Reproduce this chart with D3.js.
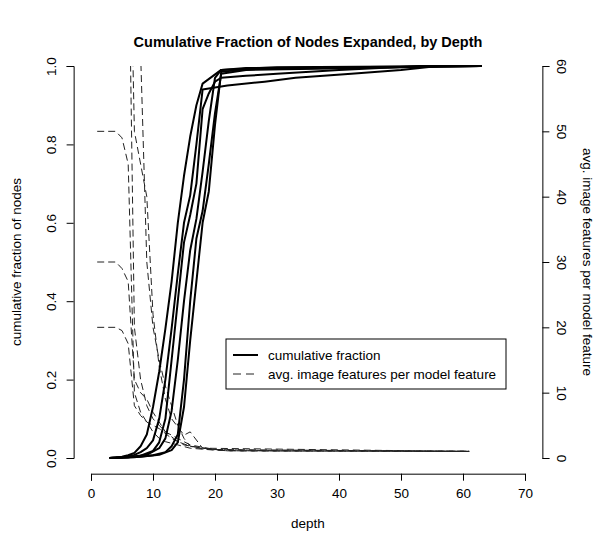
<!DOCTYPE html>
<html>
<head>
<meta charset="utf-8">
<script src="https://cdn.jsdelivr.net/npm/d3@7"></script>
<style>
  body { margin: 0; background: #fff; }
  text { font-family: "Liberation Sans", Arial, Helvetica, sans-serif; }
</style>
</head>
<body>
<div id="chart"></div>
<script>
// cumulative fraction of nodes expanded, one array per run: [depth, fraction]
const cum1 = [[3,0],[4,0.001],[5,0.003],[6,0.007],[7,0.013],[8,0.03],[9,0.06],[10,0.13],[11,0.22],[12,0.33],[13,0.45],[14,0.6],[15,0.72],[16,0.82],[17,0.9],[18,0.955],[21,0.99],[30,0.997],[63,1]];
const cum2 = [[3,0],[5,0.002],[7,0.008],[8,0.015],[9,0.025],[10,0.045],[11,0.1],[12,0.2],[13,0.33],[14,0.47],[15,0.6],[16,0.67],[17,0.8],[18,0.94],[22,0.95],[28,0.96],[33,0.97],[42,0.98],[50,0.99],[56,1],[63,1]];
const cum3 = [[3,0],[6,0.002],[8,0.006],[10,0.018],[11,0.04],[12,0.1],[13,0.25],[14,0.4],[15,0.55],[16,0.62],[17,0.7],[18,0.89],[19,0.93],[20,0.96],[21,0.97],[25,0.975],[30,0.98],[40,0.99],[53,1],[63,1]];
const cum4 = [[3,0],[6,0.002],[9,0.008],[11,0.025],[12,0.05],[13,0.12],[14,0.25],[15,0.4],[16,0.53],[17,0.61],[18,0.73],[19,0.86],[20,0.97],[21,0.99],[25,0.995],[63,1]];
const cum5 = [[3,0],[7,0.002],[10,0.007],[12,0.015],[13,0.03],[14,0.06],[15,0.2],[16,0.4],[17,0.56],[18,0.63],[19,0.75],[20,0.88],[21,0.98],[25,0.99],[63,1]];
const cum6 = [[3,0],[8,0.003],[11,0.008],[13,0.02],[14,0.04],[15,0.13],[16,0.3],[17,0.45],[18,0.6],[19,0.68],[20,0.85],[21,0.985],[25,0.992],[63,1]];

// avg. image features per model feature, one array per run: [depth, features]
const feat1 = [[1,50],[4,50],[5,49],[6,45],[7,10],[8,7],[9,5.5],[10,4],[11,3],[12,2.5],[14,2],[16,1.5],[20,1.2],[25,1.1],[61,1.05]];
const feat2 = [[1,30],[4,30],[5,29],[6,27],[7,12],[8,10],[9,9],[10,7],[12,4],[14,2.5],[16,1.8],[20,1.3],[30,1.1],[61,1.0]];
const feat3 = [[1,20],[4,20],[5,19.5],[6,17.5],[7,8],[8,6.5],[9,5.5],[10,5],[11,4.5],[13,3],[15,2],[18,1.5],[22,1.1],[61,1.05]];
const feat4 = [[1,90],[5,90],[6,85],[7,20],[8,12],[9,8],[10,6],[11,5],[12,4],[14,3],[16,2],[20,1.3],[61,1.0]];
const feat5 = [[1,95],[6,95],[7,50],[8,45],[9,40],[10,22],[11,14],[12,9],[13,6],[15,3.5],[16,4],[18,1.5],[61,1.0]];
const feat6 = [[1,95],[7,95],[8,62],[9,30],[10,20],[11,15],[12,11],[13,8],[14,5],[15,3],[16,1.8],[18,1.4],[22,1.1],[61,1.0]];

const cumSeries = [cum1, cum2, cum3, cum4, cum5, cum6];
const featSeries = [feat1, feat2, feat3, feat4, feat5, feat6];

const xTicks = [0, 10, 20, 30, 40, 50, 60, 70];
const yTicksLeft = [0, 0.2, 0.4, 0.6, 0.8, 1.0];
const yTicksRight = [0, 10, 20, 30, 40, 50, 60];
const legendLabels = ["cumulative fraction", "avg. image features per model feature"];

const width = 596, height = 537;
const svg = d3.select("#chart").append("svg")
  .attr("width", width)
  .attr("height", height);

// scales (R style: 4% padding around the data range)
const x = d3.scaleLinear().domain([0, 70]).range([91, 525]);
const yL = d3.scaleLinear().domain([0, 1]).range([458, 66]);
const yR = d3.scaleLinear().domain([0, 60]).range([458, 66]);
const plotLeft = x(-2.8), plotRight = x(72.8);
const plotTop = yL(1.04), plotBottom = yL(-0.04);

svg.append("clipPath").attr("id", "clipPlot")
  .append("rect")
  .attr("x", plotLeft).attr("y", plotTop)
  .attr("width", plotRight - plotLeft).attr("height", plotBottom - plotTop);
svg.append("clipPath").attr("id", "clipFeat")
  .append("rect")
  .attr("x", plotLeft).attr("y", yR(60))
  .attr("width", plotRight - plotLeft).attr("height", plotBottom - yR(60));

// dashed lines: features
const featLine = d3.line().x(d => x(d[0])).y(d => yR(d[1]));
svg.append("g")
  .attr("clip-path", "url(#clipFeat)")
  .selectAll("path")
  .data(featSeries)
  .join("path")
  .attr("d", featLine)
  .attr("fill", "none")
  .attr("stroke", "#222")
  .attr("stroke-width", 1)
  .attr("stroke-dasharray", "7,4");

// solid lines: cumulative fraction
const cumLine = d3.line().x(d => x(d[0])).y(d => yL(d[1]));
svg.append("g")
  .attr("clip-path", "url(#clipPlot)")
  .selectAll("path")
  .data(cumSeries)
  .join("path")
  .attr("d", cumLine)
  .attr("fill", "none")
  .attr("stroke", "#000")
  .attr("stroke-width", 2)
  .attr("stroke-linejoin", "round");

// axes
const tickLen = 7;
const axisStyle = g => {
  g.select(".domain").attr("stroke", "#000");
  g.selectAll(".tick line").attr("stroke", "#000");
  g.selectAll(".tick text").attr("fill", "#000").style("font-size", "13.5px")
    .style("font-family", "'Liberation Sans', Arial, Helvetica, sans-serif");
};

svg.append("g")
  .attr("transform", `translate(0,${plotBottom})`)
  .call(d3.axisBottom(x).tickValues(xTicks).tickSize(tickLen).tickSizeOuter(tickLen).tickPadding(8))
  .call(axisStyle);

const gl = svg.append("g")
  .attr("transform", `translate(${plotLeft},0)`)
  .call(d3.axisLeft(yL).tickValues(yTicksLeft).tickFormat(d3.format(".1f")).tickSize(tickLen).tickSizeOuter(tickLen))
  .call(axisStyle);
gl.selectAll(".tick text")
  .attr("x", null).attr("dy", null)
  .attr("text-anchor", "middle")
  .attr("transform", "translate(-18,0) rotate(-90)");

const gr = svg.append("g")
  .attr("transform", `translate(${plotRight},0)`)
  .call(d3.axisRight(yR).tickValues(yTicksRight).tickSize(tickLen).tickSizeOuter(tickLen))
  .call(axisStyle);
gr.selectAll(".tick text")
  .attr("x", null).attr("dy", null)
  .attr("text-anchor", "middle")
  .attr("transform", "translate(15,0) rotate(90)");

// title and axis labels
const midX = (plotLeft + plotRight) / 2;
const midY = (plotTop + plotBottom) / 2;
svg.append("text")
  .attr("x", midX).attr("y", 47)
  .attr("text-anchor", "middle")
  .style("font-size", "14.5px").style("font-weight", "bold")
  .text("Cumulative Fraction of Nodes Expanded, by Depth");
svg.append("text")
  .attr("x", midX).attr("y", 528)
  .attr("text-anchor", "middle")
  .style("font-size", "13.5px")
  .text("depth");
svg.append("text")
  .attr("transform", `translate(21,${midY}) rotate(-90)`)
  .attr("text-anchor", "middle")
  .style("font-size", "13.5px")
  .text("cumulative fraction of nodes");
svg.append("text")
  .attr("transform", `translate(583,${midY}) rotate(90)`)
  .attr("text-anchor", "middle")
  .style("font-size", "13.5px")
  .text("avg. image features per model feature");

// legend
const legend = svg.append("g");
legend.append("rect")
  .attr("x", 226).attr("y", 339)
  .attr("width", 280).attr("height", 50)
  .attr("fill", "#fff").attr("stroke", "#000").attr("stroke-width", 1);
legend.selectAll("line")
  .data(legendLabels)
  .join("line")
  .attr("x1", 233).attr("x2", 258)
  .attr("y1", (d, i) => 355 + i * 19).attr("y2", (d, i) => 355 + i * 19)
  .attr("stroke", (d, i) => i === 0 ? "#000" : "#222")
  .attr("stroke-width", (d, i) => i === 0 ? 2 : 1)
  .attr("stroke-dasharray", (d, i) => i === 0 ? null : "8,5");
legend.selectAll("text")
  .data(legendLabels)
  .join("text")
  .attr("x", 268).attr("y", (d, i) => 355 + i * 19)
  .attr("dy", "0.35em")
  .style("font-size", "13.5px")
  .text(d => d);
</script>
</body>
</html>
